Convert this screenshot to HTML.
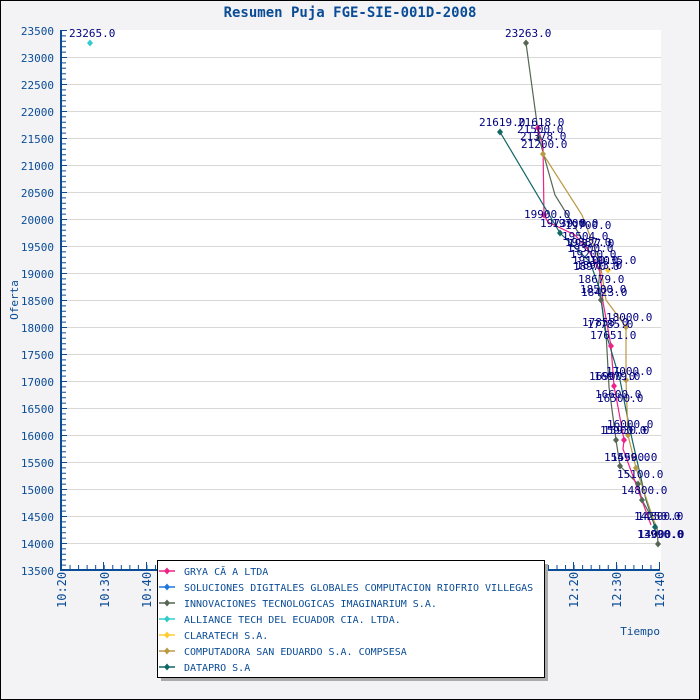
<!DOCTYPE html>
<html><head><meta charset="utf-8"><style>
body{margin:0;background:#f3f3f5}
svg{display:block}
text{font-family:"DejaVu Sans Mono","Liberation Mono",monospace}
</style></head><body>
<svg width="700" height="700" viewBox="0 0 700 700">
<rect x="0.5" y="0.5" width="699" height="699" fill="#f3f3f5" stroke="#000"/>
<text x="350" y="17" text-anchor="middle" font-size="14" fill="#0a4c96" font-weight="bold">Resumen Puja FGE-SIE-001D-2008</text>
<rect x="61" y="30" width="600" height="540" fill="#fff"/>
<g stroke="#d8d8d8" stroke-width="1">
<line x1="61" x2="661" y1="57.5" y2="57.5"/><line x1="61" x2="661" y1="84.5" y2="84.5"/><line x1="61" x2="661" y1="111.5" y2="111.5"/><line x1="61" x2="661" y1="138.5" y2="138.5"/><line x1="61" x2="661" y1="165.5" y2="165.5"/><line x1="61" x2="661" y1="192.5" y2="192.5"/><line x1="61" x2="661" y1="219.5" y2="219.5"/><line x1="61" x2="661" y1="246.5" y2="246.5"/><line x1="61" x2="661" y1="273.5" y2="273.5"/><line x1="61" x2="661" y1="300.5" y2="300.5"/><line x1="61" x2="661" y1="327.5" y2="327.5"/><line x1="61" x2="661" y1="354.5" y2="354.5"/><line x1="61" x2="661" y1="381.5" y2="381.5"/><line x1="61" x2="661" y1="408.5" y2="408.5"/><line x1="61" x2="661" y1="435.5" y2="435.5"/><line x1="61" x2="661" y1="462.5" y2="462.5"/><line x1="61" x2="661" y1="489.5" y2="489.5"/><line x1="61" x2="661" y1="516.5" y2="516.5"/><line x1="61" x2="661" y1="543.5" y2="543.5"/>
</g>
<g stroke="#0a4c96" fill="none">
<line x1="61" y1="30" x2="61" y2="571" stroke-width="2"/><line x1="60" y1="570" x2="660" y2="570" stroke-width="2"/>
<line x1="63.5" y1="30" x2="63.5" y2="570" stroke-width="5" stroke-dasharray="1 4.4"/>
<line x1="61" y1="567.5" x2="661" y2="567.5" stroke-width="5" stroke-dasharray="1 7.543"/>
</g>
<g font-size="11" fill="#0a4c96" text-anchor="end" font-family="Liberation Sans">
<text x="54" y="35">23500</text><text x="54" y="62">23000</text><text x="54" y="89">22500</text><text x="54" y="116">22000</text><text x="54" y="143">21500</text><text x="54" y="170">21000</text><text x="54" y="197">20500</text><text x="54" y="224">20000</text><text x="54" y="251">19500</text><text x="54" y="278">19000</text><text x="54" y="305">18500</text><text x="54" y="332">18000</text><text x="54" y="359">17500</text><text x="54" y="386">17000</text><text x="54" y="413">16500</text><text x="54" y="440">16000</text><text x="54" y="467">15500</text><text x="54" y="494">15000</text><text x="54" y="521">14500</text><text x="54" y="548">14000</text><text x="54" y="575">13500</text>
</g>
<path stroke="#0a4c96" stroke-width="1" fill="none" d="M61,57.5h6M61,84.5h6M61,111.5h6M61,138.5h6M61,165.5h6M61,192.5h6M61,219.5h6M61,246.5h6M61,273.5h6M61,300.5h6M61,327.5h6M61,354.5h6M61,381.5h6M61,408.5h6M61,435.5h6M61,462.5h6M61,489.5h6M61,516.5h6M61,543.5h6M61,30.5h6
M103.5,570v-8M146.5,570v-8M573.5,570v-8M616.5,570v-8M659.5,570v-8"/>
<text transform="translate(18,300) rotate(-90)" text-anchor="middle" font-size="11" fill="#0a4c96">Oferta</text>
<text x="660" y="635" text-anchor="end" font-size="11" fill="#0a4c96">Tiempo</text>
<g font-size="12" fill="#0a4c96">
<text transform="translate(66,608) rotate(-90)">10:20</text>
<text transform="translate(109,608) rotate(-90)">10:30</text>
<text transform="translate(151,608) rotate(-90)">10:40</text>
<text transform="translate(578,608) rotate(-90)">12:20</text>
<text transform="translate(621,608) rotate(-90)">12:30</text>
<text transform="translate(664,608) rotate(-90)">12:40</text>
</g>
<g fill="none" stroke-width="1.2">
<polyline stroke="#556655" points="526,43 539,138 555,195 578,232 593,258 600,270 598,290 601,300 606,332 609,387 616,440 620,466 638,484 642,500 657,527 658,544"/>
<polyline stroke="#ee2288" points="538,128 543,145 544,215 548,222 575,235 590,252 600,272 603,302 611,346 614,386 618,407 624,440 623,449 651,525"/>
<polyline stroke="#116666" points="500,132 560,233 590,262 600,290 605,330 620,380 630,430 646,500 655,527"/>
<polyline stroke="#bb9944" points="543,154 582,215 600,262 606,300 626,327 626,380 628,435 636,468 656,527"/>
</g>
<defs><path id="d" d="M0,-3.5L3,0L0,3.5L-3,0Z"/></defs>
<g>
<use href="#d" x="90" y="43" fill="#33cccc"/>
<use href="#d" x="526" y="43" fill="#556655"/>
<use href="#d" x="500" y="132" fill="#116666"/>
<use href="#d" x="538" y="128" fill="#ee2288"/>
<use href="#d" x="543" y="154" fill="#bb9944"/>
<use href="#d" x="539" y="138" fill="#556655"/>
<use href="#d" x="544" y="215" fill="#ee2288"/>
<use href="#d" x="560" y="233" fill="#116666"/>
<use href="#d" x="608" y="270" fill="#ffcc33"/>
<use href="#d" x="601" y="300" fill="#556655"/>
<use href="#d" x="626" y="327" fill="#bb9944"/>
<use href="#d" x="611" y="346" fill="#ee2288"/>
<use href="#d" x="614" y="386" fill="#ee2288"/>
<use href="#d" x="626" y="380" fill="#bb9944"/>
<use href="#d" x="616" y="440" fill="#556655"/>
<use href="#d" x="624" y="440" fill="#ee2288"/>
<use href="#d" x="628" y="435" fill="#bb9944"/>
<use href="#d" x="620" y="466" fill="#556655"/>
<use href="#d" x="636" y="468" fill="#bb9944"/>
<use href="#d" x="638" y="484" fill="#556655"/>
<use href="#d" x="642" y="500" fill="#556655"/>
<use href="#d" x="655" y="527" fill="#116666"/>
<use href="#d" x="658" y="544" fill="#556655"/>
</g>
<g font-size="11" fill="#000080">
<text x="69" y="37">23265.0</text>
<text x="505" y="37">23263.0</text>
<text x="479" y="126">21619.0</text><text x="518" y="126">21618.0</text>
<text x="517" y="133">21500.0</text><text x="520" y="140">21378.0</text><text x="521" y="148">21200.0</text>
<text x="524" y="218">19900.0</text><text x="540" y="227">19739.0</text><text x="552" y="227">19700.0</text><text x="565" y="229">19700.0</text>
<text x="562" y="240">19504.0</text><text x="565" y="246">19387.0</text><text x="567" y="252">19300.0</text><text x="568" y="247">19327.0</text>
<text x="570" y="258">19200.0</text><text x="572" y="264">19100.0</text><text x="590" y="264">19035.0</text><text x="573" y="270">18970.0</text><text x="576" y="269">18913.0</text>
<text x="578" y="283">18679.0</text><text x="580" y="293">18500.0</text><text x="581" y="296">18423.0</text>
<text x="606" y="321">18000.0</text><text x="582" y="326">17858.0</text><text x="587" y="328">17785.0</text><text x="590" y="339">17651.0</text>
<text x="606" y="375">17000.0</text><text x="589" y="380">16900.0</text><text x="594" y="380">16979.0</text><text x="595" y="398">16600.0</text><text x="597" y="402">16500.0</text>
<text x="607" y="428">16000.0</text><text x="600" y="434">15900.0</text><text x="603" y="434">15930.0</text>
<text x="604" y="461">15499.0</text><text x="611" y="461">15500.0</text><text x="617" y="478">15100.0</text><text x="621" y="494">14800.0</text>
<text x="634" y="520">14250.0</text><text x="637" y="520">14300.0</text><text x="637" y="538">13990.0</text><text x="638" y="538">14000.0</text>
</g>
<rect x="161" y="564" width="387" height="117" fill="#aaa"/>
<rect x="157.5" y="560.5" width="387" height="117" fill="#fff" stroke="#000"/>
<g font-size="10" fill="#0a4c96">
<text x="184" y="575">GRYA CĂ A LTDA</text>
<text x="184" y="591">SOLUCIONES DIGITALES GLOBALES COMPUTACION RIOFRIO VILLEGAS</text>
<text x="184" y="607">INNOVACIONES TECNOLOGICAS IMAGINARIUM S.A.</text>
<text x="184" y="623">ALLIANCE TECH DEL ECUADOR CIA. LTDA.</text>
<text x="184" y="639">CLARATECH S.A.</text>
<text x="184" y="655">COMPUTADORA SAN EDUARDO S.A. COMPSESA</text>
<text x="184" y="671">DATAPRO S.A</text>
</g>
<g stroke-width="1.5">
<line x1="159" x2="175" y1="571" y2="571" stroke="#ee2288"/><use href="#d" x="167" y="571" fill="#ee2288" transform="translate(0,0)"/>
<line x1="159" x2="175" y1="587" y2="587" stroke="#2277dd"/><use href="#d" x="167" y="587" fill="#2277dd"/>
<line x1="159" x2="175" y1="603" y2="603" stroke="#556655"/><use href="#d" x="167" y="603" fill="#556655"/>
<line x1="159" x2="175" y1="619" y2="619" stroke="#33cccc"/><use href="#d" x="167" y="619" fill="#33cccc"/>
<line x1="159" x2="175" y1="635" y2="635" stroke="#ffcc33"/><use href="#d" x="167" y="635" fill="#ffcc33"/>
<line x1="159" x2="175" y1="651" y2="651" stroke="#bb9944"/><use href="#d" x="167" y="651" fill="#bb9944"/>
<line x1="159" x2="175" y1="667" y2="667" stroke="#116666"/><use href="#d" x="167" y="667" fill="#116666"/>
</g>
</svg>
</body></html>
